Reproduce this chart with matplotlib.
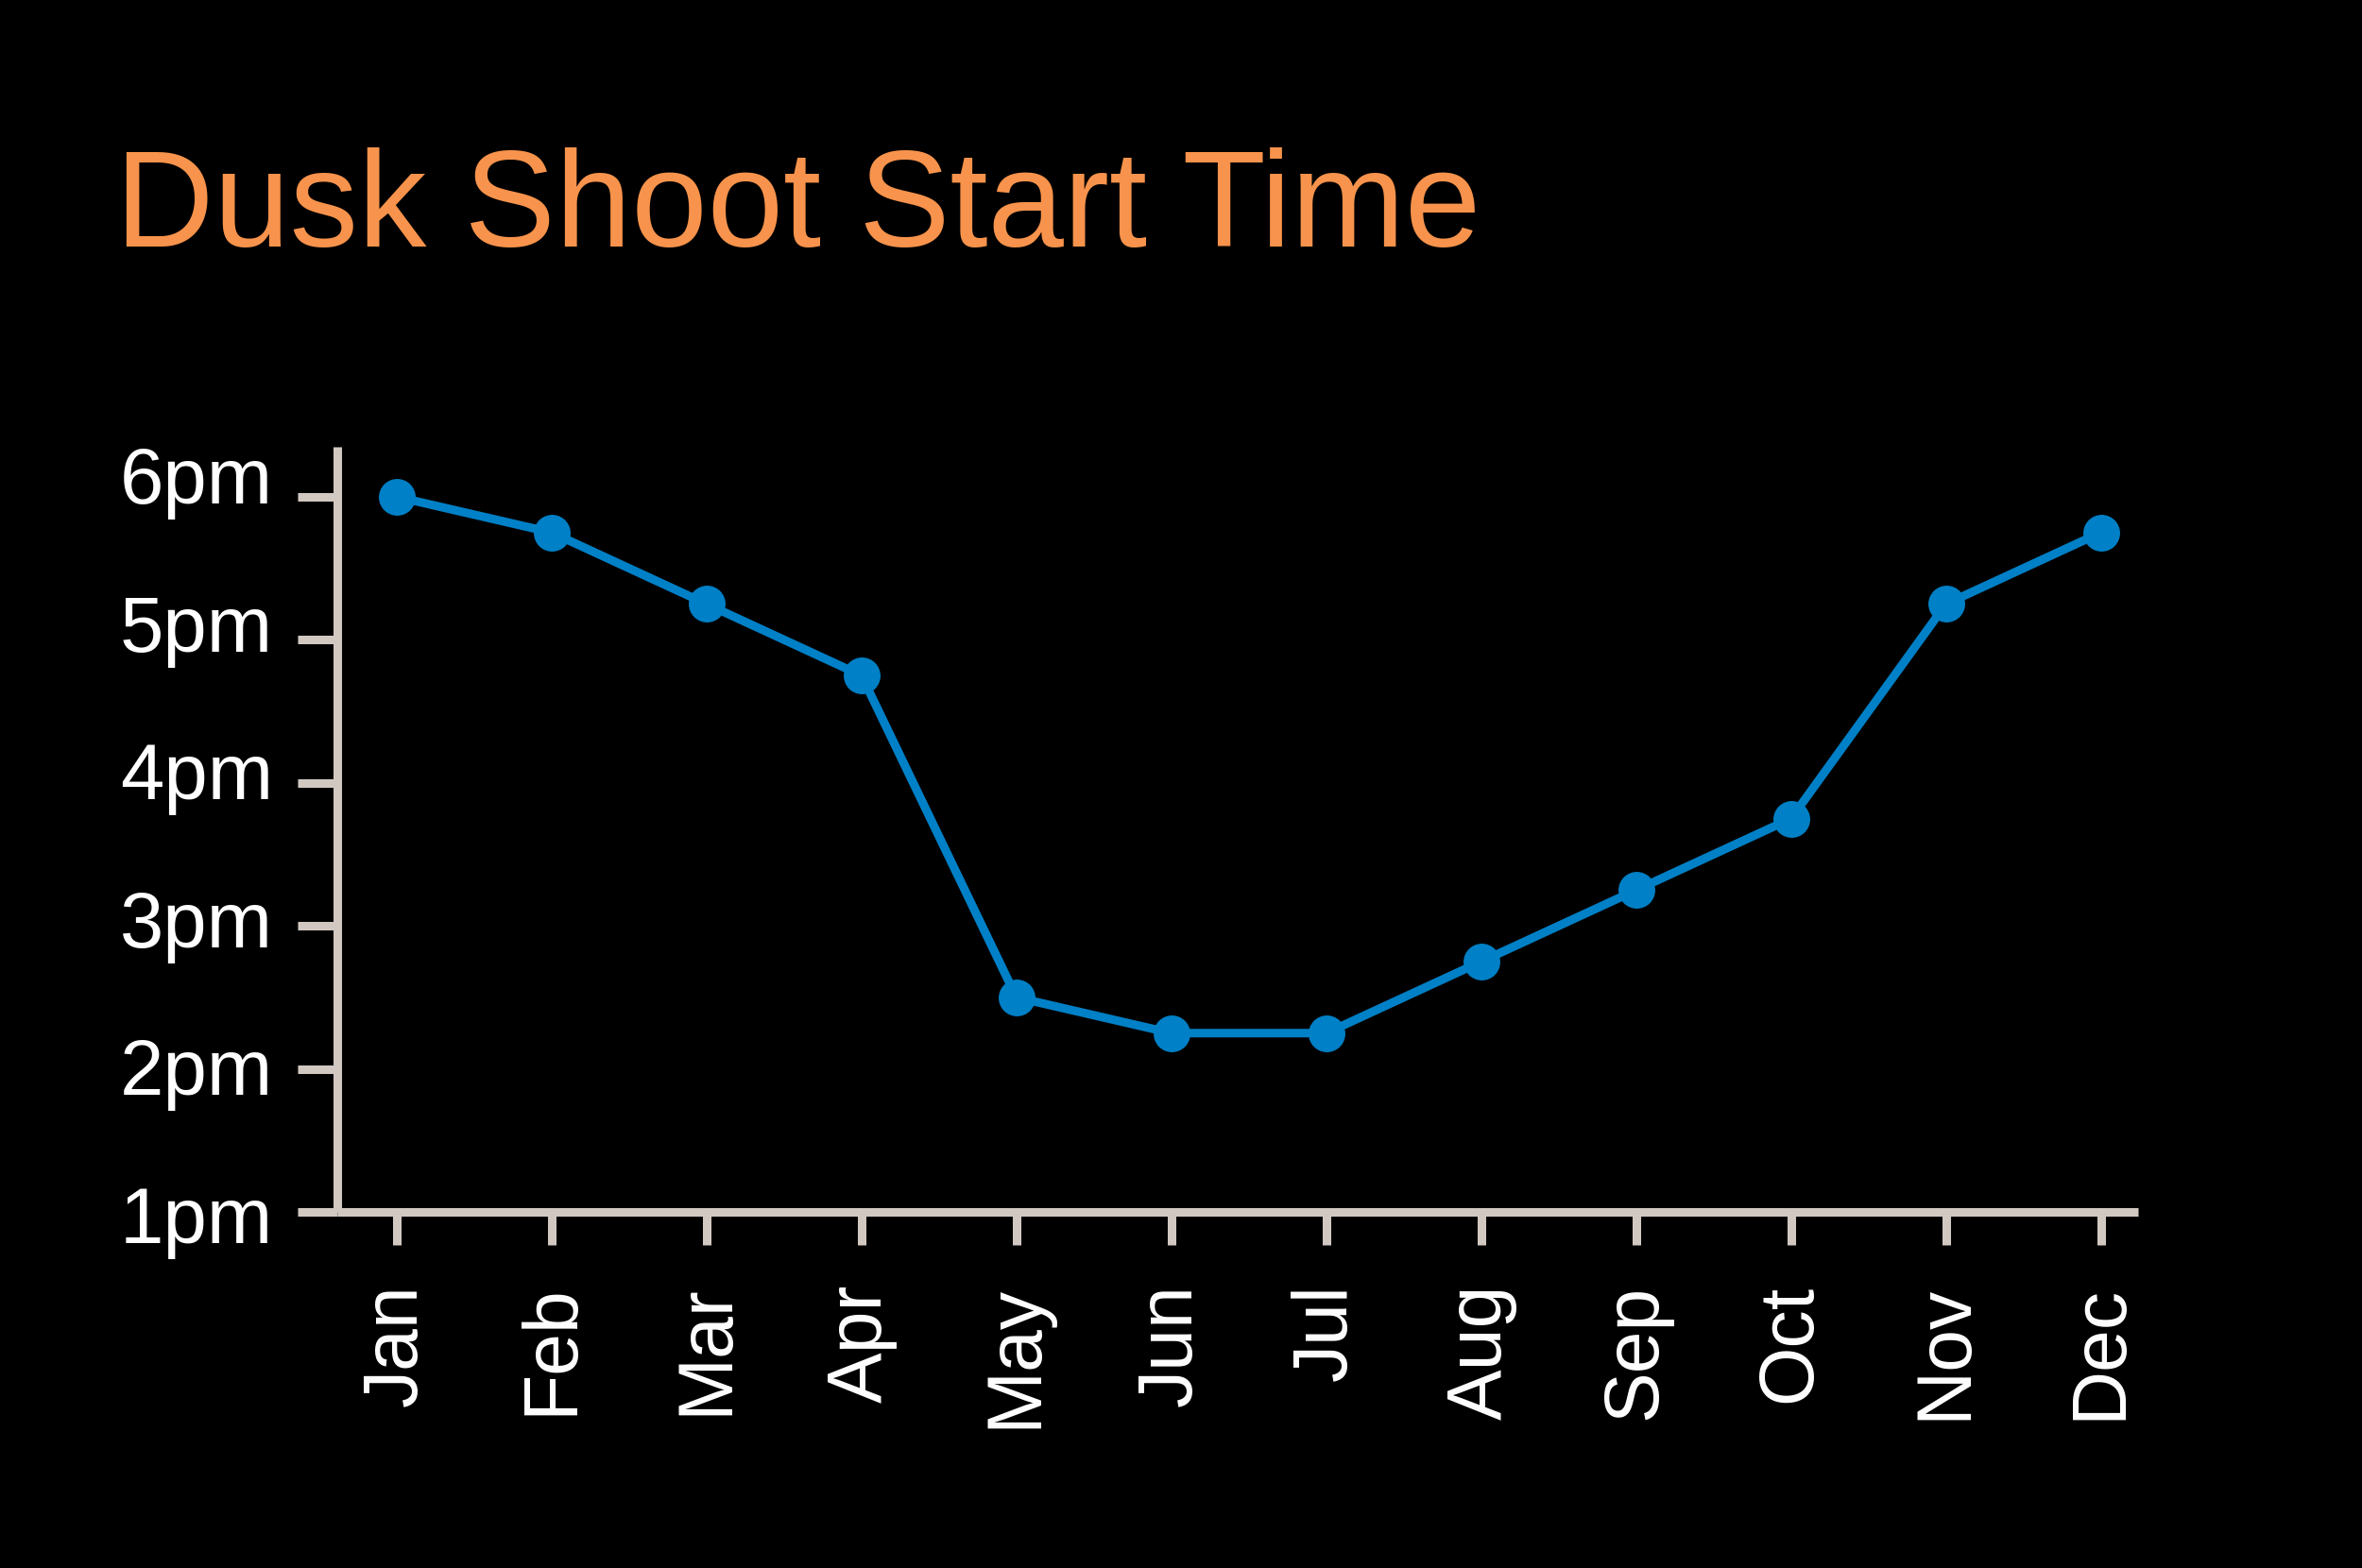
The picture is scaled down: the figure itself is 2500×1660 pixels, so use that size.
import numpy as np
import matplotlib
matplotlib.use("Agg")
import matplotlib.pyplot as plt
import matplotlib.transforms as mtransforms

# start time of the dusk shoot, in hours past noon
months = ["Jan", "Feb", "Mar", "Apr", "May", "Jun",
          "Jul", "Aug", "Sep", "Oct", "Nov", "Dec"]
start_hour = [6.0, 5.75, 5.25, 4.75, 2.5, 2.25,
              2.25, 2.75, 3.25, 3.75, 5.25, 5.75]
ytick_vals = [1, 2, 3, 4, 5, 6]
ytick_labels = ["1pm", "2pm", "3pm", "4pm", "5pm", "6pm"]

bg = "black"
axis_col = "#D2C8C2"
line_col = "#0080C6"
title_col = "#F7934C"

plt.rcParams["font.family"] = ["Liberation Sans", "DejaVu Sans"]

fig = plt.figure(figsize=(25, 16.6), dpi=100, facecolor=bg)
ax = fig.add_axes([0.1428, 0.2271, 0.9052 - 0.1428, 0.7151 - 0.2271])
ax.set_facecolor(bg)

x = np.arange(len(months))
ax.plot(x, start_hour, color=line_col, lw=6.5, marker="o", ms=27,
        mec=line_col, mfc=line_col, solid_joinstyle="round", clip_on=False)

ax.set_xlim(-0.384, 11.24)
ax.set_ylim(1, 6.35)

ax.set_xticks(x)
ax.set_xticklabels(months, rotation=90)
ax.set_yticks(ytick_vals)
ax.set_yticklabels(ytick_labels)

for s in ["top", "right"]:
    ax.spines[s].set_visible(False)
for s in ["left", "bottom"]:
    ax.spines[s].set_color(axis_col)
    ax.spines[s].set_linewidth(6.5)
    ax.spines[s].set_capstyle("butt")

ax.tick_params(axis="x", colors=axis_col, length=25, width=6.5, pad=30,
               labelsize=58, labelcolor="white")
ax.tick_params(axis="y", colors=axis_col, length=30, width=6.5, pad=19,
               labelsize=60, labelcolor="white")

# labels drift a little lower than the ticks towards the bottom
for v, lab in zip(ytick_vals, ax.get_yticklabels()):
    drop = 7 + 5.2 * (6 - v)
    shift = mtransforms.ScaledTranslation(0, -drop / 100, fig.dpi_scale_trans)
    lab.set_va("baseline")
    lab.set_transform(lab.get_transform() + shift)

fig.text(0.049, 1 - 261 / 1660, "Dusk Shoot Start Time", color=title_col,
         fontsize=104, ha="left", va="baseline")

fig.savefig("out.png", dpi=100, facecolor=bg)
